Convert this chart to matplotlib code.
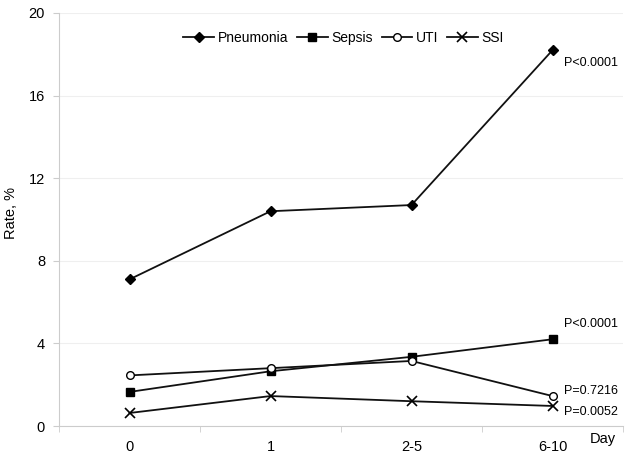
import matplotlib
matplotlib.use("Agg")
import matplotlib.pyplot as plt
import numpy as np

categories = ["0", "1", "2-5", "6-10"]
pneumonia = [7.1, 10.4, 10.7, 18.2]
sepsis = [1.65, 2.65, 3.35, 4.2]
uti = [2.45, 2.8, 3.15, 1.45]
ssi = [0.63, 1.45, 1.2, 0.97]
p_labels = ["P<0.0001", "P<0.0001", "P=0.7216", "P=0.0052"]
yticks = [0, 4, 8, 12, 16, 20]

plt.rcParams['font.family'] = ['Liberation Sans', 'DejaVu Sans']

fig = plt.figure(figsize=(6.29, 4.58), dpi=100)
ax = fig.add_axes([59/629, 32/458, (623-59)/629, (426-13)/458])

x = np.arange(len(categories))
lw = 1.3
ax.plot(x, pneumonia, color='#111111', lw=lw, marker='D', ms=5.5, mfc='black', mec='black', label='Pneumonia')
ax.plot(x, sepsis, color='#111111', lw=lw, marker='s', ms=6, mfc='black', mec='black', label='Sepsis')
ax.plot(x, uti, color='#111111', lw=lw, marker='o', ms=5.5, mfc='white', mec='black', mew=1.0, label='UTI')
ax.plot(x, ssi, color='#111111', lw=lw, marker='x', ms=7, mec='black', mew=1.2, label='SSI')

ax.set_xlim(-0.5, 3.5)
ax.set_ylim(0, 20)
ax.set_yticks(yticks)
ax.set_xticks(x)
ax.set_xticklabels(categories)
ax.set_xticks(np.arange(-0.5, 4.0, 1.0), minor=True)
ax.tick_params(axis='x', which='major', length=0, pad=10, labelsize=10.5)
ax.tick_params(axis='x', which='minor', length=4, color='#cccccc', direction='out')
ax.tick_params(axis='y', length=4, color='#cccccc', labelsize=10.5, pad=6)
ax.yaxis.grid(True, color='#efefef', lw=0.8)
ax.set_axisbelow(True)
for s in ['top', 'right']:
    ax.spines[s].set_visible(False)
for s in ['left', 'bottom']:
    ax.spines[s].set_color('#cccccc')
ax.set_ylabel('Rate, %', fontsize=10.5)
ax.yaxis.set_label_coords(-0.072, 0.515)

ax.annotate('Day', xy=(1.0, 0), xycoords='axes fraction', xytext=(-24, -4),
            textcoords='offset points', ha='left', va='top', fontsize=10.5)

offsets = [(8, -9), (8, 11), (8, 4), (8, -4)]
finals = [pneumonia[-1], sepsis[-1], uti[-1], ssi[-1]]
for lab, v, off in zip(p_labels, finals, offsets):
    ax.annotate(lab, xy=(3, v), xytext=off, textcoords='offset points',
                ha='left', va='center', fontsize=9)

ax.legend(loc='upper center', bbox_to_anchor=(0.505, 1.0), ncol=4, frameon=False,
          fontsize=10, handlelength=2.2, handletextpad=0.3, columnspacing=0.6,
          borderaxespad=0.9)

fig.savefig('out.png', dpi=100)
